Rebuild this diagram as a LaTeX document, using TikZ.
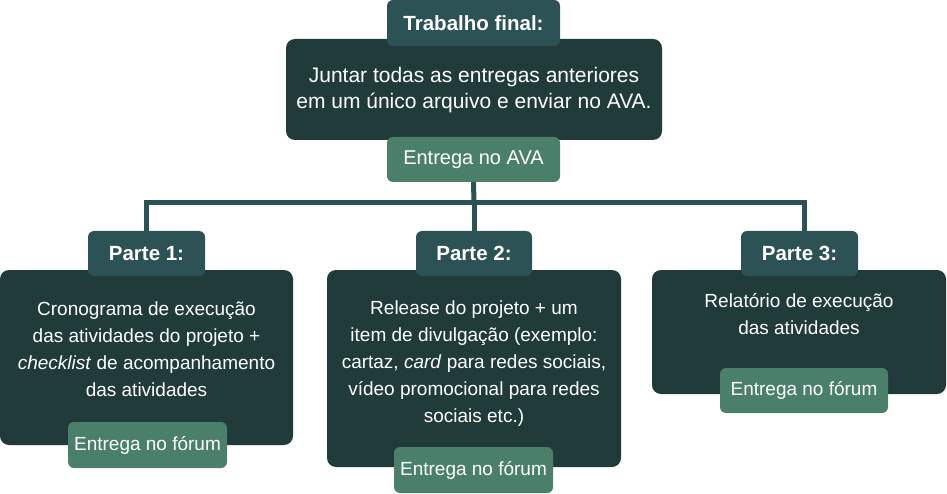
\documentclass[tikz,border=0pt]{standalone}
\usepackage{fontspec}
\setmainfont{Liberation Sans}
\definecolor{corEscura}{HTML}{203B3A}
\definecolor{corTitulo}{HTML}{2D5256}
\definecolor{corVerde}{HTML}{4A7F69}
\begin{document}
\begin{tikzpicture}[x=1pt,y=-1pt,line join=miter]
	\tikzset{caixa/.style={fill=corEscura,rounded corners=9pt,inner sep=0pt},
		titulo/.style={fill=corTitulo,rounded corners=6pt,inner sep=0pt,text=white,font=\fontsize{20.5}{26}\selectfont\bfseries},
		entrega/.style={fill=corVerde,rounded corners=6pt,inner sep=0pt,text=white,font=\fontsize{19}{26}\selectfont},
		texto/.style={text=white,align=center,inner sep=0pt,font=\fontsize{19}{27}\selectfont},
		ligacao/.style={draw=corTitulo,line width=5pt}}
	\useasboundingbox (0,0) rectangle (947,494);
	% trabalho final
	\node[caixa,minimum width=376,minimum height=101] (final) at (474,89.5) {};
	\node[texto,font=\fontsize{21}{26}\selectfont] (finaltexto) at (474,90) {Juntar todas as entregas anteriores\\em um único arquivo e enviar no AVA.};
	\node[titulo,minimum width=173,minimum height=46] (finaltitulo) at (473.5,23) {Trabalho final:};
	\node[entrega,minimum width=173,minimum height=45,font=\fontsize{20}{26}\selectfont] (ava) at (473.5,159.5) {Entrega no AVA};
	% partes
	\node[caixa,minimum width=293,minimum height=175] (corpo1) at (146.5,357.5) {};
	\node[caixa,minimum width=294,minimum height=197] (corpo2) at (474,368.5) {};
	\node[caixa,minimum width=294,minimum height=124] (corpo3) at (799,332) {};
	\node[titulo,minimum width=117,minimum height=45] (parte1) at (146.5,253.5) {Parte 1:};
	\node[titulo,minimum width=116,minimum height=45] (parte2) at (474,253.5) {Parte 2:};
	\node[titulo,minimum width=117,minimum height=45] (parte3) at (799.5,253.5) {Parte 3:};
	\node[texto] (texto1) at (146.5,349.5) {Cronograma de execução\\das atividades do projeto +\\\textit{checklist} de acompanhamento\\das atividades};
	\node[texto] (texto2) at (474,363.5) {Release do projeto + um\\item de divulgação (exemplo:\\cartaz, \textit{card} para redes sociais,\\vídeo promocional para redes\\sociais etc.)};
	\node[texto] (texto3) at (799,314.5) {Relatório de execução\\das atividades};
	\node[entrega,minimum width=159,minimum height=46] (forum1) at (147.5,445) {Entrega no fórum};
	\node[entrega,minimum width=159,minimum height=46] (forum2) at (473.5,470) {Entrega no fórum};
	\node[entrega,minimum width=168,minimum height=45] (forum3) at (804,390.5) {Entrega no fórum};
	% ligacoes
	\coordinate (juncao) at (474,203);
	\coordinate (topo3) at ([xshift=4.5pt]parte3.north);
	\draw[ligacao] (ava.south) -- (juncao);
	\draw[ligacao] (parte1.north) |- (juncao) -| (topo3);
	\draw[ligacao] (juncao) -- (parte2.north);
\end{tikzpicture}
\end{document}
